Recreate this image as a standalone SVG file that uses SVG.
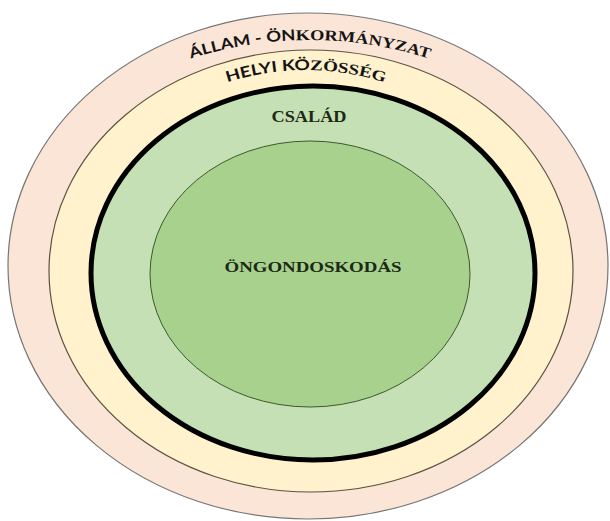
<svg xmlns="http://www.w3.org/2000/svg" width="610" height="521" viewBox="0 0 610 521">
  <defs>
    <style>
      .sans { font-family: Lato, "Liberation Sans", sans-serif; font-weight: bold; }
      .serif { font-family: "Liberation Serif", "Times New Roman", serif; font-weight: bold; }
      .arc { font-size: 15px; fill: #141414; }
      .lbl { fill: #1b2a14; text-anchor: middle; }
    </style>
    <path id="arcOuter" d="M160,70 A390,390 0 0 1 460,70"/>
    <path id="arcHelyi" d="M200,93 A256,256 0 0 1 412,93"/>
  </defs>
  <rect width="610" height="521" fill="#ffffff"/>
  <g id="allam">
    <ellipse cx="308" cy="266" rx="300" ry="253" fill="#fbe5d6" stroke="#767676" stroke-width="1.2"/>
    <text class="arc"><textPath href="#arcOuter" startOffset="50%" text-anchor="middle" textLength="242" lengthAdjust="spacingAndGlyphs"><tspan class="sans">ÁLLAM - ÖN</tspan><tspan class="serif">KORMÁNYZAT</tspan></textPath></text>
  </g>
  <g id="helyi">
    <ellipse cx="311" cy="271" rx="262" ry="221" fill="#fff2cc" stroke="#5c5442" stroke-width="1.2"/>
    <text class="arc"><textPath href="#arcHelyi" startOffset="50%" text-anchor="middle" textLength="160" lengthAdjust="spacingAndGlyphs"><tspan class="sans">HELYI KÖ</tspan><tspan class="serif">ZÖSSÉG</tspan></textPath></text>
  </g>
  <g id="csalad">
    <ellipse cx="313" cy="273" rx="222" ry="187" fill="#c5e0b4" stroke="#000000" stroke-width="5"/>
    <text class="serif lbl" x="309" y="122" font-size="17" textLength="75" lengthAdjust="spacingAndGlyphs">CSALÁD</text>
  </g>
  <g id="ongondoskodas">
    <ellipse cx="310" cy="274" rx="160" ry="133" fill="#a9d18e" stroke="#3b5a2a" stroke-width="1"/>
    <text class="serif lbl" x="313" y="272" font-size="14" textLength="177" lengthAdjust="spacingAndGlyphs">ÖNGONDOSKODÁS</text>
  </g>
</svg>
